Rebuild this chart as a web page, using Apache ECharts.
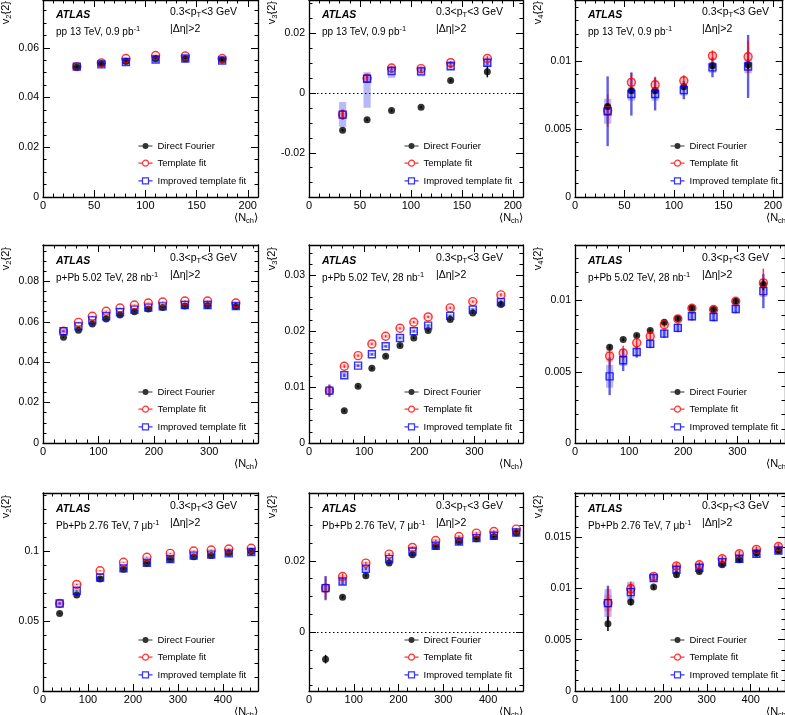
<!DOCTYPE html>
<html>
<head>
<meta charset="utf-8">
<title>v_n{2} vs Nch</title>
<script src="https://cdn.jsdelivr.net/npm/echarts@6/dist/echarts.min.js"></script>
<style>
    html, body { margin: 0; padding: 0; background: #fff; }
    #chart { width: 785px; height: 715px; }
</style>
</head>
<body>
<div id="chart"></div>
<script type="text/javascript">
    var FONT = '"Liberation Sans", Arial, Helvetica, sans-serif';

    // <Nch> bins
    var nchPP   = [33, 57, 81, 110, 139, 175];
    var nchPPb  = [37, 64, 89, 114, 139, 165, 190, 216, 256, 297, 348];
    var nchPbPb = [37, 75, 127, 179, 231, 283, 335, 374, 413, 463];

    // tick labels
    var xTicksPP   = [0, 50, 100, 150, 200];
    var xTicksPPb  = [0, 100, 200, 300];
    var xTicksPbPb = [0, 100, 200, 300, 400];
    var yTicksPPv2 = [0, 0.02, 0.04, 0.06];
    var yTicksPPv3 = [-0.02, 0, 0.02];
    var yTicksPPv4 = [0, 0.005, 0.01];
    var yTicksPPbv2 = [0, 0.02, 0.04, 0.06, 0.08];
    var yTicksPPbv3 = [0, 0.01, 0.02, 0.03];
    var yTicksPPbv4 = [0, 0.005, 0.01];
    var yTicksPbPbv2 = [0, 0.05, 0.1];
    var yTicksPbPbv3 = [0, 0.02];
    var yTicksPbPbv4 = [0, 0.005, 0.01, 0.015];

    // pp 13 TeV v2
    var ppV2Df     = [0.0523, 0.0536, 0.0545, 0.0556, 0.0556, 0.0551];
    var ppV2DfErr  = [0.0004, 0.0003, 0.0003, 0.0003, 0.0003, 0.0004];
    var ppV2Tf     = [0.0524, 0.0539, 0.0557, 0.0569, 0.0567, 0.0557];
    var ppV2TfErr  = [0.0004, 0.0003, 0.0003, 0.0003, 0.0003, 0.0004];
    var ppV2TfSys  = [0.0004, 0.0004, 0.0004, 0.0004, 0.0004, 0.0004];
    var ppV2Itf    = [0.0524, 0.0533, 0.0543, 0.0553, 0.0557, 0.0549];
    var ppV2ItfErr = [0.0004, 0.0003, 0.0003, 0.0003, 0.0003, 0.0004];
    var ppV2ItfSys = [0.0009, 0.0008, 0.0008, 0.0008, 0.0008, 0.0008];

    // pp 13 TeV v3
    var ppV3Df       = [-0.0124, -0.0089, -0.0058, -0.0047, 0.0042, 0.0072];
    var ppV3DfErr    = [0.0004, 0.0004, 0.0004, 0.0004, 0.0005, 0.0019];
    var ppV3Tf       = [-0.0072, 0.0050, 0.0084, 0.0082, 0.0102, 0.0116];
    var ppV3TfErr    = [0.0012, 0.0008, 0.0006, 0.0006, 0.0006, 0.0008];
    var ppV3TfSys    = [0.0006, 0.0006, 0.0006, 0.0006, 0.0006, 0.0006];
    var ppV3Itf      = [-0.0072, 0.0048, 0.0074, 0.0073, 0.0090, 0.0102];
    var ppV3ItfErr   = [0.0017, 0.0011, 0.0006, 0.0006, 0.0006, 0.0008];
    var ppV3ItfSysLo = [0.0041, 0.0097, 0.0023, 0.0017, 0.0012, 0.0015];
    var ppV3ItfSysHi = [0.0042, 0.0022, 0.0018, 0.0017, 0.0017, 0.0012];

    // pp 13 TeV v4
    var ppV4Df     = [0.00667, 0.00782, 0.00782, 0.00812, 0.00966, 0.00973];
    var ppV4DfErr  = [0.0002, 0.0002, 0.0002, 0.0002, 0.0002, 0.0003];
    var ppV4Tf     = [0.00636, 0.00844, 0.00826, 0.00856, 0.01039, 0.01032];
    var ppV4TfErr  = [0.0012, 0.0007, 0.0006, 0.0004, 0.0004, 0.0012];
    var ppV4TfSys  = [0.0004, 0.0003, 0.0003, 0.0003, 0.0003, 0.0003];
    var ppV4Itf    = [0.00631, 0.00758, 0.00758, 0.00787, 0.00954, 0.00961];
    var ppV4ItfErr = [0.00257, 0.00159, 0.00121, 0.00067, 0.00073, 0.00232];
    var ppV4ItfSys = [0.00092, 0.00049, 0.00049, 0.0004, 0.0004, 0.0005];

    // p+Pb 5.02 TeV v2
    var ppbV2Df     = [0.0523, 0.0558, 0.0589, 0.0614, 0.0633, 0.0650, 0.0663, 0.0671, 0.0678, 0.0680, 0.0676];
    var ppbV2DfErr  = [0.0003, 0.0002, 0.0002, 0.0002, 0.0002, 0.0002, 0.0002, 0.0002, 0.0002, 0.0002, 0.0003];
    var ppbV2Tf     = [0.0553, 0.0597, 0.0627, 0.0652, 0.0668, 0.0683, 0.0693, 0.0698, 0.0703, 0.0703, 0.0693];
    var ppbV2TfErr  = [0.0004, 0.0002, 0.0002, 0.0002, 0.0002, 0.0002, 0.0002, 0.0002, 0.0002, 0.0002, 0.0003];
    var ppbV2TfSys  = [0.0008, 0.0005, 0.0004, 0.0004, 0.0004, 0.0004, 0.0004, 0.0004, 0.0004, 0.0004, 0.0004];
    var ppbV2Itf    = [0.0553, 0.0577, 0.0607, 0.0627, 0.0647, 0.0660, 0.0670, 0.0676, 0.0683, 0.0683, 0.0678];
    var ppbV2ItfErr = [0.0004, 0.0002, 0.0002, 0.0002, 0.0002, 0.0002, 0.0002, 0.0002, 0.0002, 0.0002, 0.0003];
    var ppbV2ItfSys = [0.0012, 0.0007, 0.0006, 0.0006, 0.0006, 0.0006, 0.0006, 0.0006, 0.0006, 0.0006, 0.0006];

    // p+Pb 5.02 TeV v3
    var ppbV3Df     = [null, 0.00578, 0.01014, 0.01336, 0.01550, 0.01741, 0.01878, 0.02010, 0.02206, 0.02326, 0.02475];
    var ppbV3DfErr  = [null, 0.0002, 0.0002, 0.0002, 0.0002, 0.0002, 0.0002, 0.0002, 0.0002, 0.0002, 0.0003];
    var ppbV3Tf     = [0.00936, 0.01372, 0.01562, 0.01771, 0.01908, 0.02051, 0.02159, 0.02254, 0.02415, 0.02528, 0.02648];
    var ppbV3TfErr  = [0.0009, 0.0003, 0.0002, 0.0002, 0.0002, 0.0002, 0.0002, 0.0002, 0.0002, 0.0002, 0.0003];
    var ppbV3TfSys  = [0.0004, 0.0003, 0.0003, 0.0003, 0.0003, 0.0003, 0.0003, 0.0003, 0.0003, 0.0003, 0.0003];
    var ppbV3Itf    = [0.00936, 0.01210, 0.01383, 0.01586, 0.01729, 0.01878, 0.01998, 0.02099, 0.02272, 0.02385, 0.02522];
    var ppbV3ItfErr = [0.0011, 0.0003, 0.0002, 0.0002, 0.0002, 0.0002, 0.0002, 0.0002, 0.0002, 0.0002, 0.0003];
    var ppbV3ItfSys = [0.0005, 0.0004, 0.0003, 0.0003, 0.0003, 0.0003, 0.0003, 0.0003, 0.0003, 0.0003, 0.0003];

    // p+Pb 5.02 TeV v4
    var ppbV4Df     = [null, 0.00672, 0.00726, 0.00754, 0.00789, 0.00848, 0.00874, 0.00948, 0.00937, 0.00995, 0.01112];
    var ppbV4DfErr  = [null, 0.0001, 0.0001, 0.0001, 0.0001, 0.0001, 0.0001, 0.0001, 0.0001, 0.0002, 0.0004];
    var ppbV4Tf     = [null, 0.00610, 0.00632, 0.00703, 0.00749, 0.00831, 0.00871, 0.00946, 0.00937, 0.00995, 0.01124];
    var ppbV4TfErr  = [null, 0.0008, 0.0005, 0.0003, 0.0003, 0.0002, 0.0002, 0.0002, 0.0002, 0.0002, 0.0010];
    var ppbV4TfSys  = [null, 0.0004, 0.0003, 0.0002, 0.0002, 0.0002, 0.0002, 0.0002, 0.0002, 0.0002, 0.0003];
    var ppbV4Itf    = [null, 0.00468, 0.00581, 0.00639, 0.00696, 0.00768, 0.00808, 0.00890, 0.00885, 0.00941, 0.01066];
    var ppbV4ItfErr = [null, 0.00132, 0.00076, 0.0004, 0.0003, 0.0003, 0.0003, 0.0003, 0.0003, 0.0003, 0.0012];
    var ppbV4ItfSys = [null, 0.0008, 0.0004, 0.0003, 0.0003, 0.0003, 0.0003, 0.0003, 0.0003, 0.0003, 0.0004];

    // Pb+Pb 2.76 TeV v2
    var pbpbV2Df     = [0.0554, 0.0685, 0.0800, 0.0869, 0.0912, 0.0940, 0.0959, 0.0967, 0.0983, 0.0995];
    var pbpbV2DfErr  = [0.0005, 0.0003, 0.0003, 0.0003, 0.0003, 0.0003, 0.0003, 0.0003, 0.0003, 0.0003];
    var pbpbV2Tf     = [0.0625, 0.0761, 0.0859, 0.0919, 0.0955, 0.0983, 0.1000, 0.1007, 0.1014, 0.1019];
    var pbpbV2TfErr  = [0.0008, 0.0004, 0.0003, 0.0003, 0.0003, 0.0003, 0.0003, 0.0003, 0.0003, 0.0003];
    var pbpbV2TfSys  = [0.0010, 0.0008, 0.0006, 0.0006, 0.0006, 0.0006, 0.0006, 0.0006, 0.0006, 0.0006];
    var pbpbV2Itf    = [0.0625, 0.0716, 0.0811, 0.0876, 0.0916, 0.0943, 0.0967, 0.0974, 0.0983, 0.0993];
    var pbpbV2ItfErr = [0.0008, 0.0004, 0.0003, 0.0003, 0.0003, 0.0003, 0.0003, 0.0003, 0.0003, 0.0003];
    var pbpbV2ItfSys = [0.0018, 0.0012, 0.0008, 0.0008, 0.0008, 0.0008, 0.0008, 0.0008, 0.0008, 0.0008];

    // Pb+Pb 2.76 TeV v3
    var pbpbV3Df     = [-0.00757, 0.00981, 0.01580, 0.01935, 0.02168, 0.02402, 0.02542, 0.02617, 0.02682, 0.02776];
    var pbpbV3DfErr  = [0.0012, 0.0004, 0.0003, 0.0003, 0.0003, 0.0003, 0.0003, 0.0003, 0.0003, 0.0003];
    var pbpbV3Tf     = [0.01234, 0.01560, 0.01935, 0.02187, 0.02374, 0.02570, 0.02682, 0.02776, 0.02822, 0.02888];
    var pbpbV3TfErr  = [0.0030, 0.0008, 0.0004, 0.0003, 0.0003, 0.0003, 0.0003, 0.0003, 0.0003, 0.0003];
    var pbpbV3TfSys  = [0.0008, 0.0005, 0.0004, 0.0004, 0.0004, 0.0004, 0.0004, 0.0004, 0.0004, 0.0004];
    var pbpbV3Itf    = [0.01234, 0.01420, 0.01776, 0.02047, 0.02262, 0.02421, 0.02542, 0.02636, 0.02701, 0.02794];
    var pbpbV3ItfErr = [0.0034, 0.0009, 0.0004, 0.0003, 0.0003, 0.0003, 0.0003, 0.0003, 0.0003, 0.0003];
    var pbpbV3ItfSys = [0.0012, 0.0009, 0.0006, 0.0005, 0.0005, 0.0005, 0.0005, 0.0005, 0.0005, 0.0005];

    // Pb+Pb 2.76 TeV v4
    var pbpbV4Df     = [null, 0.00656, 0.00867, 0.01013, 0.01133, 0.01166, 0.01230, 0.01279, 0.01344, 0.01370];
    var pbpbV4DfErr  = [null, 0.0007, 0.0003, 0.0002, 0.0002, 0.0002, 0.0002, 0.0002, 0.0002, 0.0002];
    var pbpbV4Tf     = [null, 0.00857, 0.00997, 0.01117, 0.01218, 0.01230, 0.01289, 0.01338, 0.01380, 0.01409];
    var pbpbV4TfErr  = [null, 0.0015, 0.0007, 0.0003, 0.0003, 0.0003, 0.0003, 0.0003, 0.0003, 0.0003];
    var pbpbV4TfSys  = [null, 0.0008, 0.0005, 0.0003, 0.0003, 0.0003, 0.0003, 0.0003, 0.0003, 0.0003];
    var pbpbV4Itf    = [null, 0.00857, 0.00964, 0.01101, 0.01182, 0.01201, 0.01256, 0.01289, 0.01338, 0.01370];
    var pbpbV4ItfErr = [null, 0.0017, 0.0008, 0.0003, 0.0003, 0.0003, 0.0003, 0.0003, 0.0003, 0.0003];
    var pbpbV4ItfSys = [null, 0.00135, 0.0010, 0.0004, 0.0004, 0.0004, 0.0004, 0.0004, 0.0004, 0.0004];

    var SYS_PP   = '{t|pp 13 TeV, 0.9 pb}{sup|-1}';
    var SYS_PPB  = '{t|p+Pb 5.02 TeV, 28 nb}{sup|-1}';
    var SYS_PBPB = '{t|Pb+Pb 2.76 TeV, 7 \u03bcb}{sup|-1}';

    var panels = [
        {row: 0, col: 0, n: 2, sys: SYS_PP, x: nchPP, df: ppV2Df, dfErr: ppV2DfErr, tf: ppV2Tf, tfErr: ppV2TfErr, tfSys: ppV2TfSys,
            itf: ppV2Itf, itfErr: ppV2ItfErr, itfLo: ppV2ItfSys, itfHi: ppV2ItfSys,
            xMax: 210, xTicks: xTicksPP, xMinor: 10, yMin: 0, yMax: 0.0792, yTicks: yTicksPPv2, yMinor: 0.005},
        {row: 0, col: 1, n: 3, sys: SYS_PP, x: nchPP, df: ppV3Df, dfErr: ppV3DfErr, tf: ppV3Tf, tfErr: ppV3TfErr, tfSys: ppV3TfSys,
            itf: ppV3Itf, itfErr: ppV3ItfErr, itfLo: ppV3ItfSysLo, itfHi: ppV3ItfSysHi,
            xMax: 210, xTicks: xTicksPP, xMinor: 10, yMin: -0.0348, yMax: 0.0312, yTicks: yTicksPPv3, yMinor: 0.005, zero: true},
        {row: 0, col: 2, n: 4, sys: SYS_PP, x: nchPP, df: ppV4Df, dfErr: ppV4DfErr, tf: ppV4Tf, tfErr: ppV4TfErr, tfSys: ppV4TfSys,
            itf: ppV4Itf, itfErr: ppV4ItfErr, itfLo: ppV4ItfSys, itfHi: ppV4ItfSys,
            xMax: 210, xTicks: xTicksPP, xMinor: 10, yMin: 0, yMax: 0.0145, yTicks: yTicksPPv4, yMinor: 0.001},
        {row: 1, col: 0, n: 2, sys: SYS_PPB, x: nchPPb, df: ppbV2Df, dfErr: ppbV2DfErr, tf: ppbV2Tf, tfErr: ppbV2TfErr, tfSys: ppbV2TfSys,
            itf: ppbV2Itf, itfErr: ppbV2ItfErr, itfLo: ppbV2ItfSys, itfHi: ppbV2ItfSys,
            xMax: 388, xTicks: xTicksPPb, xMinor: 20, yMin: 0, yMax: 0.098, yTicks: yTicksPPbv2, yMinor: 0.005},
        {row: 1, col: 1, n: 3, sys: SYS_PPB, x: nchPPb, df: ppbV3Df, dfErr: ppbV3DfErr, tf: ppbV3Tf, tfErr: ppbV3TfErr, tfSys: ppbV3TfSys,
            itf: ppbV3Itf, itfErr: ppbV3ItfErr, itfLo: ppbV3ItfSys, itfHi: ppbV3ItfSys,
            xMax: 388, xTicks: xTicksPPb, xMinor: 20, yMin: 0, yMax: 0.0354, yTicks: yTicksPPbv3, yMinor: 0.002},
        {row: 1, col: 2, n: 4, sys: SYS_PPB, x: nchPPb, df: ppbV4Df, dfErr: ppbV4DfErr, tf: ppbV4Tf, tfErr: ppbV4TfErr, tfSys: ppbV4TfSys,
            itf: ppbV4Itf, itfErr: ppbV4ItfErr, itfLo: ppbV4ItfSys, itfHi: ppbV4ItfSys,
            xMax: 388, xTicks: xTicksPPb, xMinor: 20, yMin: 0, yMax: 0.0139, yTicks: yTicksPPbv4, yMinor: 0.001},
        {row: 2, col: 0, n: 2, sys: SYS_PBPB, x: nchPbPb, df: pbpbV2Df, dfErr: pbpbV2DfErr, tf: pbpbV2Tf, tfErr: pbpbV2TfErr, tfSys: pbpbV2TfSys,
            itf: pbpbV2Itf, itfErr: pbpbV2ItfErr, itfLo: pbpbV2ItfSys, itfHi: pbpbV2ItfSys,
            xMax: 478, xTicks: xTicksPbPb, xMinor: 20, yMin: 0, yMax: 0.1414, yTicks: yTicksPbPbv2, yMinor: 0.01},
        {row: 2, col: 1, n: 3, sys: SYS_PBPB, x: nchPbPb, df: pbpbV3Df, dfErr: pbpbV3DfErr, tf: pbpbV3Tf, tfErr: pbpbV3TfErr, tfSys: pbpbV3TfSys,
            itf: pbpbV3Itf, itfErr: pbpbV3ItfErr, itfLo: pbpbV3ItfSys, itfHi: pbpbV3ItfSys,
            xMax: 478, xTicks: xTicksPbPb, xMinor: 20, yMin: -0.0165, yMax: 0.039, yTicks: yTicksPbPbv3, yMinor: 0.005, zero: true},
        {row: 2, col: 2, n: 4, sys: SYS_PBPB, x: nchPbPb, df: pbpbV4Df, dfErr: pbpbV4DfErr, tf: pbpbV4Tf, tfErr: pbpbV4TfErr, tfSys: pbpbV4TfSys,
            itf: pbpbV4Itf, itfErr: pbpbV4ItfErr, itfLo: pbpbV4ItfSys, itfHi: pbpbV4ItfSys,
            xMax: 478, xTicks: xTicksPbPb, xMinor: 20, yMin: 0, yMax: 0.0193, yTicks: yTicksPbPbv4, yMinor: 0.001}
    ];

    // panel frames (px)
    var colLeft = [43, 309, 575];
    var colWidth = [215, 214, 215];
    var rowTop = [-1, 245, 493];
    var PANEL_H = 198;

    var RED = '#ff0000', BLUE = '#0000ff';
    var ICON_DF  = 'path://M0,3H14V4H0Z M7,0.5A3,3 0 1,1 7,6.5A3,3 0 1,1 7,0.5Z';
    var ICON_TF  = 'path://M0,3.5H4 M10,3.5H14 M7,0.5A3,3 0 1,1 7,6.5A3,3 0 1,1 7,0.5Z';
    var ICON_ITF = 'path://M0,3.5H4 M10,3.5H14 M4,0.5H10V6.5H4Z';

    function minorTicks(lo, hi, step) {
        var out = [];
        var start = Math.ceil(lo / step - 1e-6) * step;
        for (var v = start; v <= hi + 1e-9; v += step) out.push(+v.toFixed(6));
        return out;
    }

    function pts(xs, ys) {
        var out = [];
        xs.forEach(function (x, i) { if (ys[i] != null) out.push([x, ys[i]]); });
        return out;
    }

    function ranges(xs, ys, lo, hi) {
        var out = [];
        xs.forEach(function (x, i) {
            if (ys[i] == null || lo == null || lo[i] == null) return;
            out.push([x, ys[i] - lo[i], ys[i] + (hi ? hi[i] : lo[i])]);
        });
        return out;
    }

    function errRender(color, w) {
        return function (params, api) {
            var a = api.coord([api.value(0), api.value(1)]);
            var b = api.coord([api.value(0), api.value(2)]);
            return {type: 'line', shape: {x1: a[0], y1: a[1], x2: b[0], y2: b[1]}, style: {stroke: color, lineWidth: w}};
        };
    }

    function boxRender(fill, halfW) {
        return function (params, api) {
            var a = api.coord([api.value(0), api.value(1)]);
            var b = api.coord([api.value(0), api.value(2)]);
            return {type: 'rect', shape: {x: a[0] - halfW, y: b[1], width: 2 * halfW, height: a[1] - b[1]}, style: {fill: fill}};
        };
    }

    function fmt(v) { return String(parseFloat((+v).toFixed(6))); }

    var grids = [], xAxes = [], yAxes = [], series = [], legends = [], graphics = [];

    // major axis (line + long ticks) and a companion axis for the short minor ticks
    function axisPair(list, gi, dim, pos, min, max, majors, minors, withLabels, fontSize) {
        list.push({
            gridIndex: gi, type: 'value', position: pos, min: min, max: max,
            axisLine: {show: true, onZero: false, lineStyle: {color: '#000', width: 1.3}},
            axisTick: {show: true, inside: true, length: 7, customValues: majors, lineStyle: {color: '#000', width: 1}},
            axisLabel: withLabels ? {show: true, customValues: majors, formatter: fmt, margin: dim === 'x' ? 3 : 4,
                fontSize: fontSize, fontFamily: FONT, color: '#000'} : {show: false},
            splitLine: {show: false}, axisPointer: {show: false}
        });
        list.push({
            gridIndex: gi, type: 'value', position: pos, min: min, max: max,
            axisLine: {show: false, onZero: false},
            axisTick: {show: true, inside: true, length: 3.5, customValues: minors, lineStyle: {color: '#000', width: 1}},
            axisLabel: {show: false}, splitLine: {show: false}
        });
    }

    function text(x, y, str, opt) {
        graphics.push({
            type: 'text', x: x, y: y, silent: true, rotation: opt.rotation || 0,
            style: {
                text: str, fill: '#000', fontFamily: FONT, fontSize: opt.fontSize || 10,
                fontWeight: opt.fontWeight || 'normal', fontStyle: opt.fontStyle || 'normal',
                align: opt.align || 'left', verticalAlign: 'middle', lineHeight: 14,
                rich: {
                    t: {fontSize: opt.fontSize || 10, fontFamily: FONT, lineHeight: 14, fill: '#000'},
                    sub: {fontSize: 7.5, fontFamily: FONT, lineHeight: 8, verticalAlign: 'bottom', fill: '#000'},
                    sup: {fontSize: 7.5, fontFamily: FONT, lineHeight: 8, verticalAlign: 'top', fill: '#000'}
                }
            }
        });
    }

    panels.forEach(function (p, gi) {
        var L = colLeft[p.col], W = colWidth[p.col], T = rowTop[p.row], B = T + PANEL_H;
        grids.push({left: L, top: T, width: W, height: PANEL_H, show: false});

        var xMinors = minorTicks(0, p.xMax, p.xMinor);
        var yMinors = minorTicks(p.yMin, p.yMax, p.yMinor);
        axisPair(xAxes, gi, 'x', 'bottom', 0, p.xMax, p.xTicks, xMinors, true, 11);
        axisPair(xAxes, gi, 'x', 'top', 0, p.xMax, p.xTicks, xMinors, false);
        axisPair(yAxes, gi, 'y', 'left', p.yMin, p.yMax, p.yTicks, yMinors, true, 10.5);
        axisPair(yAxes, gi, 'y', 'right', p.yMin, p.yMax, p.yTicks, yMinors, false);

        var ax = {xAxisIndex: 4 * gi, yAxisIndex: 4 * gi};
        function custom(data, render) {
            return Object.assign({type: 'custom', coordinateSystem: 'cartesian2d', silent: true,
                renderItem: render, encode: {x: 0, y: [1, 2]}, data: data, animation: false}, ax);
        }

        series.push(custom(ranges(p.x, p.itf, p.itfLo, p.itfHi), boxRender('rgba(70,70,235,0.38)', 3.6)));
        series.push(custom(ranges(p.x, p.tf, p.tfSys), boxRender('rgba(255,70,70,0.35)', 3.6)));
        series.push(custom(ranges(p.x, p.itf, p.itfErr), errRender('rgba(40,40,220,0.75)', 2.4)));
        series.push(custom(ranges(p.x, p.tf, p.tfErr), errRender('rgba(255,0,0,0.8)', 1.5)));
        series.push(custom(ranges(p.x, p.df, p.dfErr), errRender('#000', 1.5)));

        var dfSeries = Object.assign({
            name: 'Direct Fourier', type: 'scatter', data: pts(p.x, p.df), symbol: 'circle', symbolSize: 7,
            itemStyle: {color: '#000'}, silent: true, animation: false
        }, ax);
        if (p.zero) {
            dfSeries.markLine = {
                silent: true, symbol: ['none', 'none'], label: {show: false}, animation: false,
                lineStyle: {type: [1.5, 2.5], color: '#000', width: 1}, data: [{yAxis: 0}]
            };
        }
        series.push(dfSeries);
        series.push(Object.assign({
            name: 'Template fit', type: 'scatter', data: pts(p.x, p.tf), symbol: 'circle', symbolSize: 8,
            itemStyle: {color: 'rgba(0,0,0,0)', borderColor: RED, borderWidth: 1.4}, silent: true, animation: false
        }, ax));
        series.push(Object.assign({
            name: 'Improved template fit', type: 'scatter', data: pts(p.x, p.itf), symbol: 'rect', symbolSize: 7,
            itemStyle: {color: 'rgba(0,0,0,0)', borderColor: BLUE, borderWidth: 1.4}, silent: true, animation: false
        }, ax));

        legends.push({
            left: L + 93, top: B - 56, orient: 'vertical', align: 'left', padding: 0,
            itemWidth: 14, itemHeight: 6, itemGap: 6.7, selectedMode: false,
            textStyle: {fontSize: 9.5, fontFamily: FONT, color: '#000', lineHeight: 10},
            data: [
                {name: 'Direct Fourier', icon: ICON_DF, itemStyle: {color: '#000', borderColor: '#000', borderWidth: 0}},
                {name: 'Template fit', icon: ICON_TF, itemStyle: {color: 'none', borderColor: RED, borderWidth: 1.2}},
                {name: 'Improved template fit', icon: ICON_ITF, itemStyle: {color: 'none', borderColor: BLUE, borderWidth: 1.2}}
            ]
        });

        text(L + 13, T + 16, 'ATLAS', {fontSize: 10.5, fontWeight: 'bold', fontStyle: 'italic'});
        text(L + 13, T + 33, p.sys, {fontSize: 10});
        text(L + 127, T + 13, '{t|0.3<p}{sub|T}{t|<3 GeV}', {fontSize: 10.5});
        text(L + 127, T + 30, '{t|\u007c\u0394\u03b7\u007c>2}', {fontSize: 10.5});
        text(L - 37, T + 2, '{t|v}{sub|' + p.n + '}{t|\u007b2\u007d}', {fontSize: 11, align: 'right', rotation: Math.PI / 2});
        text(L + W, B + 21, '{t|\u27e8N}{sub|ch}{t|\u27e9}', {fontSize: 11, align: 'right'});
    });

    var chart = echarts.init(document.getElementById('chart'));
    chart.setOption({
        animation: false,
        backgroundColor: '#fff',
        grid: grids,
        xAxis: xAxes,
        yAxis: yAxes,
        legend: legends,
        series: series,
        graphic: graphics
    });
</script>
</body>
</html>
